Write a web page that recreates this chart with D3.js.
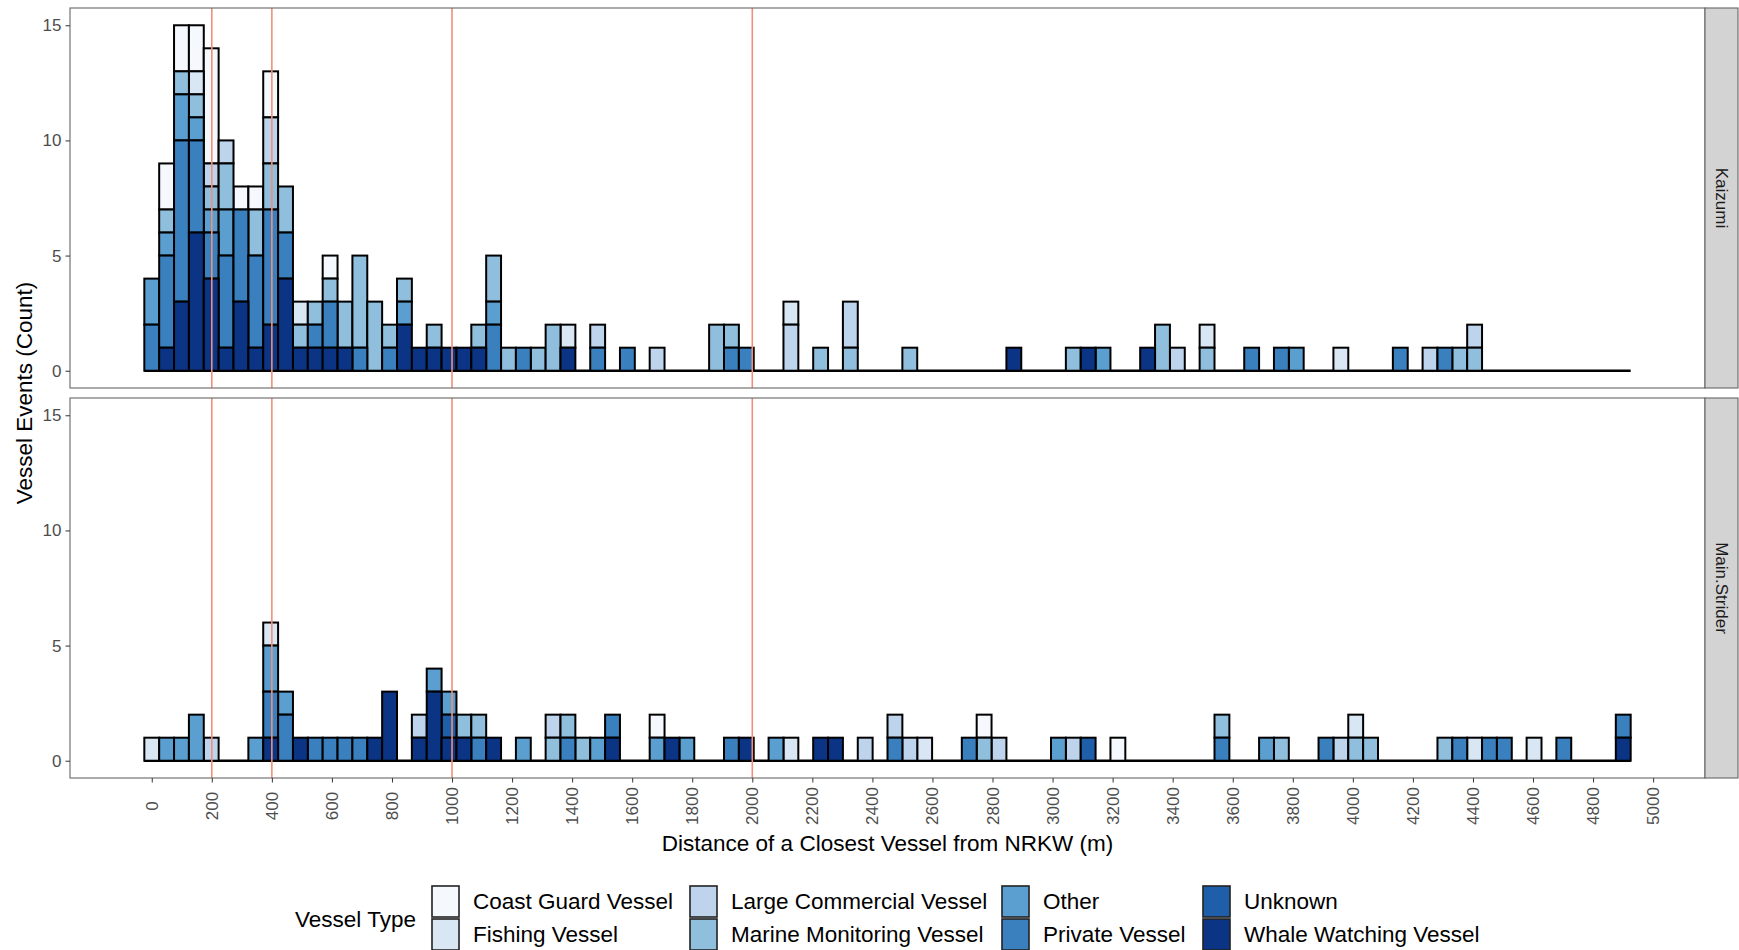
<!DOCTYPE html>
<html><head><meta charset="utf-8">
<script src="https://cdn.jsdelivr.net/npm/d3@7"></script>
<style>
body{margin:0;background:#fff}
svg text{font-family:"Liberation Sans",Arial,Helvetica,sans-serif}
</style>
</head><body>
<svg id="chart" width="1739" height="950"></svg>
<script>
// ---------- DATA ----------
const vesselTypes = ["Coast Guard Vessel","Fishing Vessel","Large Commercial Vessel","Marine Monitoring Vessel","Other","Private Vessel","Unknown","Whale Watching Vessel"];
const typeColors = ["#f5f9fe","#d9e7f5","#bdd4ec","#8fbfdc","#5a9fd0","#3a80bf","#1f5ea8","#0c3484"];
const panelNames = ["Kaizumi","Main.Strider"];
const binWidth = 49.5;      // metres per histogram bin (bins centred on k*binWidth)
const binCount = 100;
const xTickValues = d3.range(0, 5001, 200);
const yTickValues = [0,5,10,15];
const referenceLines = [200,400,1000,2000];

// counts as [bin index, count]
const kaizumiCoastGuard   = [[1,2],[2,2],[3,2],[4,5],[6,1],[7,1],[8,2],[12,1]];
const kaizumiFishing      = [[3,1],[10,1],[28,1],[43,1],[71,1],[80,1]];
const kaizumiLargeComm    = [[4,1],[5,1],[8,2],[30,1],[34,1],[43,2],[47,2],[69,1],[86,1],[89,1]];
const kaizumiMarineMon    = [[1,1],[2,1],[3,1],[4,1],[5,2],[7,2],[8,2],[9,2],[10,1],[11,1],[12,1],[13,2],[14,4],[15,3],[16,1],[17,1],[19,1],[22,1],[23,2],[24,1],[26,1],[27,2],[38,2],[39,1],[45,1],[47,1],[51,1],[62,1],[68,2],[71,1],[88,1],[89,1]];
const kaizumiOther        = [[0,2],[1,1],[2,2],[3,1],[4,1],[5,2],[17,1],[23,1],[64,1],[77,1]];
const kaizumiPrivate      = [[0,2],[1,4],[2,7],[3,4],[4,2],[5,4],[6,4],[7,4],[8,5],[9,2],[11,1],[12,2],[14,1],[16,1],[23,2],[25,1],[30,1],[32,1],[39,1],[40,1],[74,1],[76,1],[84,1],[87,1]];
const kaizumiUnknown      = [];
const kaizumiWhaleWatch   = [[1,1],[2,3],[3,6],[4,4],[5,1],[6,3],[7,1],[8,2],[9,4],[10,1],[11,1],[12,1],[13,1],[17,2],[18,1],[19,1],[20,1],[21,1],[22,1],[28,1],[58,1],[63,1],[67,1]];

const striderCoastGuard   = [[34,1],[56,1],[65,1]];
const striderFishing      = [[0,1],[8,1],[43,1],[52,1],[81,1],[89,1],[93,1]];
const striderLargeComm    = [[4,1],[18,1],[27,1],[48,1],[50,1],[51,1],[57,1],[62,1],[80,1]];
const striderMarineMon    = [[21,1],[22,1],[27,1],[28,1],[29,1],[56,1],[72,1],[76,1],[81,1],[82,1],[87,1]];
const striderOther        = [[1,1],[2,1],[3,2],[7,1],[8,2],[9,1],[19,1],[20,1],[25,1],[30,1],[34,1],[36,1],[42,1],[61,1],[75,1]];
const striderPrivate      = [[8,2],[9,2],[11,1],[12,1],[13,1],[14,1],[22,1],[28,1],[31,1],[39,1],[50,1],[55,1],[72,1],[79,1],[88,1],[90,1],[91,1],[95,1],[99,1]];
const striderUnknown      = [[20,1],[63,1]];
const striderWhaleWatch   = [[8,1],[10,1],[15,1],[16,3],[18,1],[19,3],[20,1],[21,1],[23,1],[31,1],[35,1],[40,1],[45,1],[46,1],[99,1]];

const panelSeries = [
  [kaizumiCoastGuard,kaizumiFishing,kaizumiLargeComm,kaizumiMarineMon,kaizumiOther,kaizumiPrivate,kaizumiUnknown,kaizumiWhaleWatch],
  [striderCoastGuard,striderFishing,striderLargeComm,striderMarineMon,striderOther,striderPrivate,striderUnknown,striderWhaleWatch]
];

// ---------- LAYOUT ----------
const svg = d3.select("#chart");
const L = 70, R = 1705, stripW = 33;
const panelTops = [8, 398], panelH = 380;
const fontMain = 22.5, fontSmall = 17;

const lo = -binWidth/2, hi = (binCount - 0.5) * binWidth;
const pad = 0.05 * (hi - lo);
const x = d3.scaleLinear().domain([lo - pad, hi + pad]).range([L, R]);
const color = d3.scaleOrdinal().domain(vesselTypes).range(typeColors);
const stackKeys = vesselTypes.slice().reverse(); // whale watching at the bottom

panelNames.forEach((name, pi) => {
  const top = panelTops[pi];
  const y = d3.scaleLinear().domain([-0.75, 15.75]).range([top + panelH, top]);

  const table = d3.range(binCount).map(k => {
    const row = {k: k, center: k * binWidth};
    vesselTypes.forEach(t => row[t] = 0);
    return row;
  });
  panelSeries[pi].forEach((arr, ti) => arr.forEach(([k, c]) => table[k][vesselTypes[ti]] = c));
  const stacked = d3.stack().keys(stackKeys)(table);

  const g = svg.append("g");
  g.append("rect").attr("x", L).attr("y", top).attr("width", R - L).attr("height", panelH)
    .attr("fill", "#fff");

  // zero-count baseline (ggplot draws empty bins as flat outlined rects)
  g.append("line").attr("x1", x(lo)).attr("x2", x(hi)).attr("y1", y(0)).attr("y2", y(0))
    .attr("stroke", "#000").attr("stroke-width", 2.4);

  stacked.slice().reverse().forEach(layer => {
    g.append("g").selectAll("rect").data(layer.filter(d => d[1] > d[0])).join("rect")
      .attr("x", d => x(d.data.center - binWidth/2))
      .attr("width", d => x(d.data.center + binWidth/2) - x(d.data.center - binWidth/2))
      .attr("y", d => y(d[1]))
      .attr("height", d => y(d[0]) - y(d[1]))
      .attr("fill", color(layer.key))
      .attr("stroke", "#000").attr("stroke-width", 2);
  });

  g.selectAll("line.ref").data(referenceLines).join("line")
    .attr("x1", d => x(d)).attr("x2", d => x(d))
    .attr("y1", top).attr("y2", top + panelH)
    .attr("stroke", "#f0907a").attr("stroke-width", 1.6);

  g.append("rect").attr("x", L).attr("y", top).attr("width", R - L).attr("height", panelH)
    .attr("fill", "none").attr("stroke", "#666").attr("stroke-width", 1.1);

  g.append("rect").attr("x", R).attr("y", top).attr("width", stripW).attr("height", panelH)
    .attr("fill", "#d3d3d3").attr("stroke", "#666").attr("stroke-width", 1.1);
  g.append("text").attr("transform", `translate(${R + stripW/2},${top + panelH/2}) rotate(90)`)
    .attr("text-anchor", "middle").attr("dominant-baseline", "central")
    .attr("font-size", fontSmall).attr("fill", "#1a1a1a").text(name);

  const ya = g.append("g").attr("transform", `translate(${L},0)`)
    .call(d3.axisLeft(y).tickValues(yTickValues).tickSize(4.5).tickPadding(4));
  ya.select(".domain").remove();
  ya.selectAll(".tick line").attr("stroke", "#333");
  ya.selectAll(".tick text").attr("font-size", fontSmall).attr("fill", "#4d4d4d")
    .attr("font-family", '"Liberation Sans",Arial,sans-serif');

  if (pi === 1) {
    const xa = g.append("g").attr("transform", `translate(0,${top + panelH})`)
      .call(d3.axisBottom(x).tickValues(xTickValues).tickSize(4.5).tickFormat(d3.format("d")));
    xa.select(".domain").remove();
    xa.selectAll(".tick line").attr("stroke", "#333");
    xa.selectAll(".tick text")
      .attr("font-size", fontSmall).attr("fill", "#4d4d4d")
      .attr("font-family", '"Liberation Sans",Arial,sans-serif')
      .attr("text-anchor", "middle").attr("dy", null).attr("y", null)
      .attr("dominant-baseline", "central")
      .attr("transform", "translate(0,28) rotate(-90)");
  }
});

svg.append("text").attr("x", (L + R) / 2).attr("y", 843).attr("text-anchor", "middle")
  .attr("dominant-baseline", "central").attr("font-size", fontMain).attr("fill", "#000")
  .text("Distance of a Closest Vessel from NRKW (m)");
svg.append("text").attr("transform", `translate(24,${(panelTops[0] + panelTops[1] + panelH) / 2}) rotate(-90)`)
  .attr("text-anchor", "middle").attr("dominant-baseline", "central")
  .attr("font-size", fontMain).attr("fill", "#000").text("Vessel Events (Count)");

const leg = svg.append("g");
leg.append("text").attr("x", 295).attr("y", 919).attr("dominant-baseline", "central")
  .attr("font-size", fontMain).attr("fill", "#000").text("Vessel Type");
const colX = [431, 689, 1001, 1202];
const rowY = [885, 918];
const keyW = 29, keyH = 33;
vesselTypes.forEach((t, i) => {
  const cx = colX[Math.floor(i / 2)], ry = rowY[i % 2];
  leg.append("rect").attr("x", cx).attr("y", ry).attr("width", keyW).attr("height", keyH)
    .attr("fill", "#f2f2f2");
  leg.append("rect").attr("x", cx + 1).attr("y", ry + 1).attr("width", keyW - 2).attr("height", keyH - 2)
    .attr("fill", color(t)).attr("stroke", "#222").attr("stroke-width", 1.6);
  leg.append("text").attr("x", cx + keyW + 13).attr("y", ry + keyH / 2).attr("dominant-baseline", "central")
    .attr("font-size", fontMain).attr("fill", "#000").text(t);
});
</script>
</body></html>
